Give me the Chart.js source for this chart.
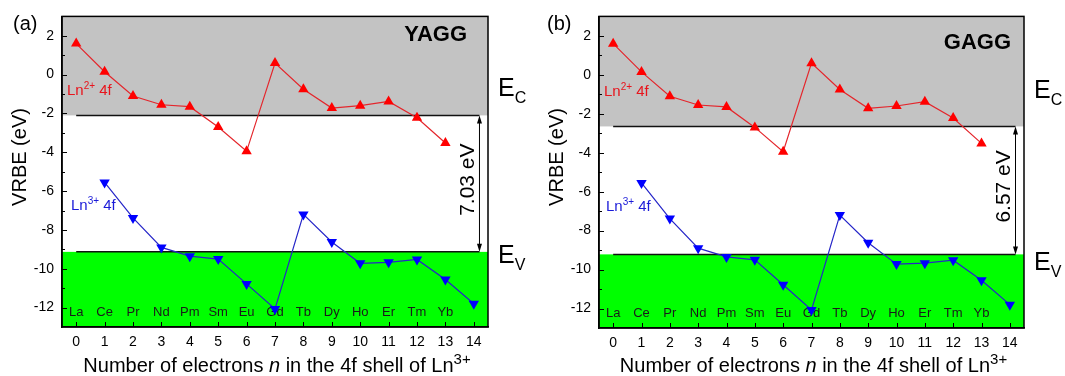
<!DOCTYPE html>
<html><head><meta charset="utf-8">
<script src="https://cdn.jsdelivr.net/npm/chart.js@4"></script>
<style>
html,body{margin:0;padding:0;background:#fff;}
#wrap{position:relative;width:1065px;height:376px;overflow:hidden;}
.pane{position:absolute;top:0;height:376px;}
</style></head><body>
<div id="wrap">
<div class="pane" style="left:0;width:530px"><canvas id="ca"></canvas></div>
<div class="pane" style="left:537px;width:528px"><canvas id="cb"></canvas></div>
</div>
<script>
// ---- data ----
const xTicks = [0,1,2,3,4,5,6,7,8,9,10,11,12,13,14];
const yTicks = [-12,-10,-8,-6,-4,-2,0,2];
const elementLabels = ['La','Ce','Pr','Nd','Pm','Sm','Eu','Gd','Tb','Dy','Ho','Er','Tm','Yb'];
const elementPositions = [0,1,2,3,4,5,6,7,8,9,10,11,12,13];
const ln2Positions = [0,1,2,3,4,5,6,7,8,9,10,11,12,13];
const ln2VRBE = [1.6,0.15,-1.1,-1.55,-1.65,-2.7,-3.95,0.6,-0.75,-1.72,-1.6,-1.38,-2.22,-3.52];
const ln3Positions = [1,2,3,4,5,6,7,8,9,10,11,12,13,14];
const ln3VRBE = [-5.55,-7.38,-8.9,-9.35,-9.5,-10.78,-12.07,-7.2,-8.62,-9.72,-9.67,-9.52,-10.55,-11.8];
const panelTags = ['(a)','(b)'];
const hostNames = ['YAGG','GAGG'];
const conductionEdge = [-2.1,-2.65];
const valenceEdge = [-9.13,-9.22];
const gapLabels = ['7.03 eV','6.57 eV'];

const FONT = '"Liberation Sans", Arial, Helvetica, sans-serif';

function supText(ctx, x, y, parts) {
  let cx = x;
  for (const p of parts) {
    ctx.font = (p.style||'') + ' ' + (p.weight||'') + ' ' + p.size + 'px ' + FONT;
    ctx.fillText(p.t, cx, y + (p.dy||0));
    cx += ctx.measureText(p.t).width;
  }
  return cx - x;
}
function measureParts(ctx, parts) {
  let w = 0;
  for (const p of parts) {
    ctx.font = (p.style||'') + ' ' + (p.weight||'') + ' ' + p.size + 'px ' + FONT;
    w += ctx.measureText(p.t).width;
  }
  return w;
}

function makeChart(id, idx, cfg) {
  const bandPlugin = {
    id: 'bands' + idx,
    beforeDraw(chart) {
      const {ctx, chartArea: a, scales: {x, y}} = chart;
      const yc = y.getPixelForValue(conductionEdge[idx]);
      const yv = y.getPixelForValue(valenceEdge[idx]);
      ctx.save();
      ctx.fillStyle = '#c3c3c3';
      ctx.fillRect(a.left, a.top, a.right - a.left, yc - a.top);
      ctx.fillStyle = '#00ff00';
      ctx.fillRect(a.left, yv, a.right - a.left, a.bottom - yv);
      ctx.restore();
    },
    beforeDatasetsDraw(chart) {
      const {ctx, chartArea: a, scales: {x, y}} = chart;
      const yc = y.getPixelForValue(conductionEdge[idx]);
      const yv = y.getPixelForValue(valenceEdge[idx]);
      const x0 = x.getPixelForValue(0), x1 = x.getPixelForValue(14.2);
      ctx.save();
      ctx.strokeStyle = '#111';
      ctx.lineWidth = 1.5;
      ctx.beginPath();
      ctx.moveTo(x0, yc); ctx.lineTo(x1, yc);
      ctx.moveTo(x0, yv); ctx.lineTo(x1, yv);
      ctx.stroke();
      ctx.fillStyle = '#1a1a1a';
      ctx.font = '13px ' + FONT;
      ctx.textAlign = 'center';
      ctx.textBaseline = 'middle';
      elementLabels.forEach((lab, i) => {
        ctx.fillText(lab, x.getPixelForValue(elementPositions[i]), y.getPixelForValue(-12.27));
      });
      ctx.restore();
    },
    afterDraw(chart) {
      const {ctx, chartArea: a, scales: {x, y}} = chart;
      ctx.save();
      ctx.strokeStyle = '#000';
      ctx.lineWidth = 1.5;
      ctx.strokeRect(a.left, a.top, a.right - a.left, a.bottom - a.top);
      ctx.lineWidth = 1;
      ctx.beginPath();
      for (let v = -12; v <= 2; v++) {
        const py = Math.round(y.getPixelForValue(v)) + 0.5;
        const len = (v % 2 === 0) ? 5 : 3;
        ctx.moveTo(a.left, py); ctx.lineTo(a.left + len, py);
      }
      xTicks.forEach(v => {
        const px = Math.round(x.getPixelForValue(v)) + 0.5;
        ctx.moveTo(px, a.bottom); ctx.lineTo(px, a.bottom - 5);
      });
      ctx.stroke();
      const ax = x.getPixelForValue(14.2);
      const yc = y.getPixelForValue(conductionEdge[idx]);
      const yv = y.getPixelForValue(valenceEdge[idx]);
      ctx.fillStyle = '#000';
      ctx.beginPath();
      ctx.moveTo(ax, yc + 6); ctx.lineTo(ax, yv - 6);
      ctx.stroke();
      ctx.beginPath();
      ctx.moveTo(ax, yc); ctx.lineTo(ax - 2.5, yc + 8); ctx.lineTo(ax + 2.5, yc + 8); ctx.closePath();
      ctx.moveTo(ax, yv); ctx.lineTo(ax - 2.5, yv - 8); ctx.lineTo(ax + 2.5, yv - 8); ctx.closePath();
      ctx.fill();
      ctx.save();
      ctx.translate(ax - 11, (yc + yv) / 2 - 4);
      ctx.rotate(-Math.PI / 2);
      ctx.font = '21px ' + FONT;
      ctx.textAlign = 'center';
      ctx.textBaseline = 'middle';
      ctx.fillText(gapLabels[idx], 0, 0);
      ctx.restore();
      ctx.textAlign = 'left';
      ctx.textBaseline = 'alphabetic';
      ctx.fillStyle = '#000';
      supText(ctx, a.right + 10, cfg.ecY, [{t:'E', size:25}, {t:'C', size:16, dy:7}]);
      supText(ctx, a.right + 10, cfg.evY, [{t:'E', size:25}, {t:'V', size:16, dy:7}]);
      ctx.font = '20px ' + FONT;
      ctx.textBaseline = 'middle';
      ctx.fillText(panelTags[idx], cfg.tagX, 24);
      ctx.font = 'bold 22px ' + FONT;
      ctx.textAlign = 'right';
      ctx.fillText(hostNames[idx], a.right - cfg.hostDx, a.top + cfg.hostDy);
      ctx.textAlign = 'left';
      ctx.textBaseline = 'alphabetic';
      ctx.fillStyle = '#e8141c';
      supText(ctx, cfg.ln2X, cfg.ln2Y, [{t:'Ln', size:15}, {t:'2+', size:10, dy:-6}, {t:' 4f', size:15}]);
      ctx.fillStyle = '#1a1ad8';
      supText(ctx, cfg.ln3X, cfg.ln3Y, [{t:'Ln', size:15}, {t:'3+', size:10, dy:-6}, {t:' 4f', size:15}]);
      ctx.fillStyle = '#000';
      const parts = [
        {t:'Number of electrons ', size:20},
        {t:'n', size:20, style:'italic'},
        {t:' in the 4f shell of Ln', size:20},
        {t:'3+', size:15, dy:-8}
      ];
      const w = measureParts(ctx, parts);
      supText(ctx, (a.left + a.right) / 2 - w / 2 + 2, 372, parts);
      ctx.save();
      ctx.translate(26, 157);
      ctx.rotate(-Math.PI / 2);
      ctx.font = '20px ' + FONT;
      ctx.textAlign = 'center';
      ctx.textBaseline = 'alphabetic';
      ctx.fillText('VRBE (eV)', 0, 0);
      ctx.restore();
      ctx.restore();
    }
  };

  return new Chart(document.getElementById(id), {
    type: 'line',
    data: {
      datasets: [
        {
          label: 'Ln2+ 4f',
          data: ln2Positions.map((p, i) => ({x: p, y: ln2VRBE[i]})),
          borderColor: '#e4262c',
          backgroundColor: '#ff0000',
          borderWidth: 1.2,
          pointStyle: 'triangle',
          pointRadius: 6,
          pointBorderWidth: 0,
          pointBackgroundColor: '#ff0000',
          tension: 0
        },
        {
          label: 'Ln3+ 4f',
          data: ln3Positions.map((p, i) => ({x: p, y: ln3VRBE[i]})),
          borderColor: '#2626c8',
          backgroundColor: '#0000ff',
          borderWidth: 1.2,
          pointStyle: 'triangle',
          pointRotation: 180,
          pointRadius: 6,
          pointBorderWidth: 0,
          pointBackgroundColor: '#0000ff',
          tension: 0
        }
      ]
    },
    options: {
      responsive: true,
      maintainAspectRatio: false,
      animation: false,
      events: [],
      layout: {padding: {left: 0, right: cfg.padRight, top: cfg.padTop, bottom: 0}},
      plugins: {legend: {display: false}, tooltip: {enabled: false}},
      scales: {
        x: {
          type: 'linear', min: -0.5, max: 14.5,
          afterBuildTicks: s => { s.ticks = xTicks.map(v => ({value: v})); },
          afterFit: s => { s.height = cfg.xHeight; },
          grid: {display: false, drawTicks: false},
          border: {display: true, color: '#000', width: 1.5},
          ticks: {color: '#000', padding: 7, font: {family: FONT, size: 14}, maxRotation: 0, autoSkip: false}
        },
        y: {
          type: 'linear', min: -13, max: 3,
          afterBuildTicks: s => { s.ticks = yTicks.map(v => ({value: v})); },
          afterFit: s => { s.width = 62; },
          grid: {display: false, drawTicks: false},
          border: {display: true, color: '#000', width: 1.5},
          ticks: {color: '#000', padding: 8, font: {family: FONT, size: 14}}
        }
      }
    },
    plugins: [bandPlugin]
  });
}

makeChart('ca', 0, {padRight: 42, padTop: 14, xHeight: 49, ecY: 96, evY: 263, tagX: 13, hostDx: 21, hostDy: 19,
  ln2X: 67, ln2Y: 95, ln3X: 71, ln3Y: 210});
makeChart('cb', 1, {padRight: 41, padTop: 15, xHeight: 48, ecY: 98, evY: 270, tagX: 10, hostDx: 13, hostDy: 27,
  ln2X: 67, ln2Y: 96, ln3X: 69, ln3Y: 211});
</script>
</body></html>
